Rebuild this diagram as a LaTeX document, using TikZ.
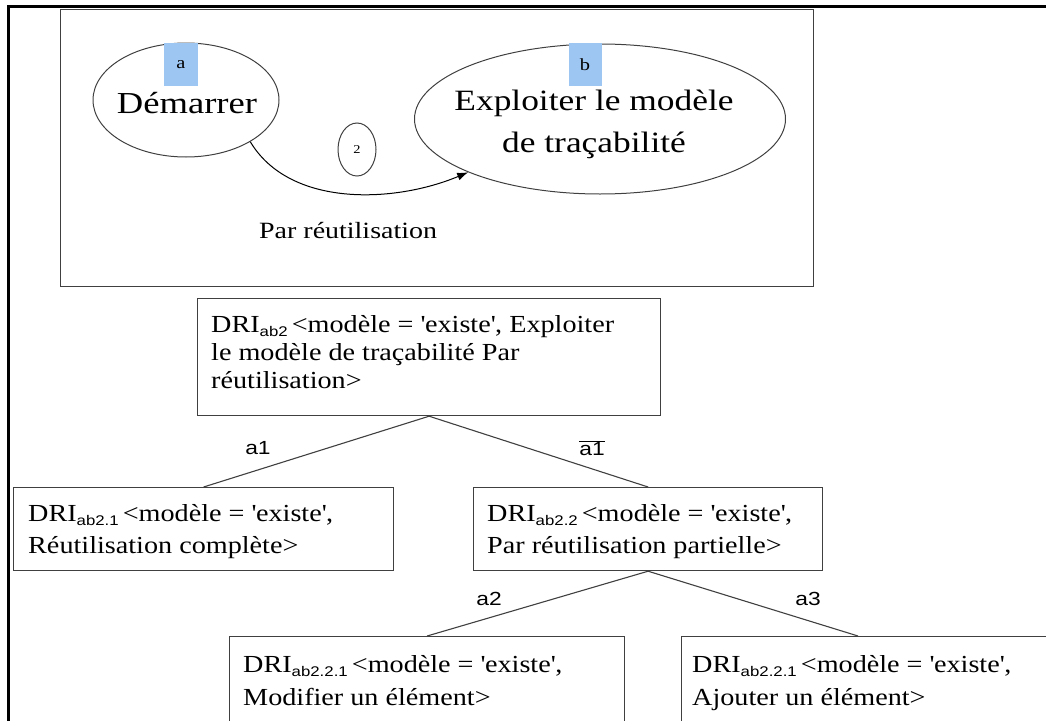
\documentclass[tikz,border=0pt]{standalone}
\usepackage{fontspec}
\setmainfont[FakeStretch=1.2]{Liberation Serif}
\setsansfont[FakeStretch=1.2]{Liberation Sans}
\newfontfamily\drifont[FakeStretch=1.15]{Liberation Serif}
\usetikzlibrary{shapes.geometric,arrows.meta}

\definecolor{tagblue}{RGB}{157,198,242}
\definecolor{framegray}{RGB}{64,64,64}

% indice des DRI, en petit et sans empattement
\newcommand{\drisub}[1]{\raisebox{-4pt}{\sffamily\fontsize{14}{14}\selectfont #1}}
\newcommand{\qt}{\textquotesingle}

\tikzset{
  etat/.style={draw=framegray, ellipse, line width=1pt, inner sep=0pt},
  tag/.style={fill=tagblue, inner sep=0pt, font=\fontsize{17}{17}\selectfont},
  drbox/.style={draw=framegray, line width=1.2pt, anchor=north west, inner sep=0pt},
  drtext/.style={anchor=base west, inner sep=0pt, align=left, font=\drifont\fontsize{24.5}{28}\selectfont},
  branche/.style={draw=framegray, line width=1.1pt},
  cond/.style={inner sep=0pt, font=\sffamily\fontsize{19}{19}\selectfont}
}

\begin{document}
\begin{tikzpicture}[x=1pt,y=-1pt]
\useasboundingbox (0,0) rectangle (1046,720);
\clip (0,0) rectangle (1046,720);

% cadre exterieur
\draw[line width=3pt] (8,6) rectangle (1100,800);

% schema du haut
\node[
  draw=framegray,
  line width=1pt,
  anchor=north west,
  inner sep=0pt,
  minimum width=753,
  minimum height=277
] (cadre) at (60,9) {};

\node[etat, minimum width=186, minimum height=114] (demarrer) at (186,100) {};
\node[inner sep=0pt, anchor=base, font=\fontsize{30.5}{30.5}\selectfont] (demarrertxt) at (187,113) {Démarrer};
\node[tag, minimum width=34, minimum height=43] (taga) at (181,64.5) {a};

\node[etat, minimum width=371, minimum height=150] (exploiter) at (600,119) {};
\node[
  inner sep=0pt,
  anchor=base,
  align=center,
  font=\fontsize{29.5}{42}\selectfont
] (exploitertxt) at (594,152) {Exploiter le modèle\\de traçabilité};
\node[tag, minimum width=33, minimum height=43] (tagb) at (585,64.5) {b};

\node[etat, minimum width=38, minimum height=53, font=\fontsize{12}{12}\selectfont] (deux) at (357,149.5) {2};

\draw[line width=1pt, -{Latex[length=11pt,width=8pt]}]
  (demarrer.-33) .. controls (290,208) and (395,203) .. (exploiter.-158);

\node[inner sep=0pt, anchor=base west, font=\fontsize{23.3}{23.3}\selectfont] (parreu) at (259,238) {Par réutilisation};

% arbre des DRI (ancre base = derniere ligne)
\node[drbox, minimum width=463, minimum height=117] (racine) at (197,298) {};
\node[drtext] (racinetxt) at (211,388)
  {DRI\drisub{ab2}\,<modèle = \qt existe\qt, Exploiter\\le modèle de traçabilité Par\\réutilisation>};

\node[drbox, minimum width=380, minimum height=83] (gauche) at (13,487) {};
\node[drtext, font=\drifont\fontsize{24.5}{32}\selectfont] (gauchetxt) at (28,553)
  {DRI\drisub{ab2.1}\,<modèle = \qt existe\qt,\\Réutilisation complète>};

\node[drbox, minimum width=349, minimum height=83] (droite) at (473,487) {};
\node[drtext, font=\drifont\fontsize{24.5}{32}\selectfont] (droitetxt) at (487,553)
  {DRI\drisub{ab2.2}\,<modèle = \qt existe\qt,\\Par réutilisation partielle>};

\node[drbox, minimum width=395, minimum height=100] (modifier) at (229,636) {};
\node[drtext, font=\drifont\fontsize{24.5}{33}\selectfont] (modifiertxt) at (243,705)
  {DRI\drisub{ab2.2.1}\,<modèle = \qt existe\qt,\\Modifier un élément>};

\node[drbox, minimum width=400, minimum height=100] (ajouter) at (681,636) {};
\node[drtext, font=\drifont\fontsize{24.5}{33}\selectfont] (ajoutertxt) at (692,705)
  {DRI\drisub{ab2.2.1}\,<modèle = \qt existe\qt,\\Ajouter un élément>};
\coordinate (ajouterhaut) at (858,636);

\draw[branche] (racine.south) -- (gauche.north);
\draw[branche] (racine.south) -- (droite.north);
\draw[branche] (droite.south) -- (modifier.north);
\draw[branche] (droite.south) -- (ajouterhaut);

\node[cond] (ca1) at (258,448) {a1};
\node[cond] (cna1) at (592,448) {$\overline{\mbox{a1}}$};
\node[cond] (ca2) at (489,599) {a2};
\node[cond] (ca3) at (808,599) {a3};
\end{tikzpicture}
\end{document}
